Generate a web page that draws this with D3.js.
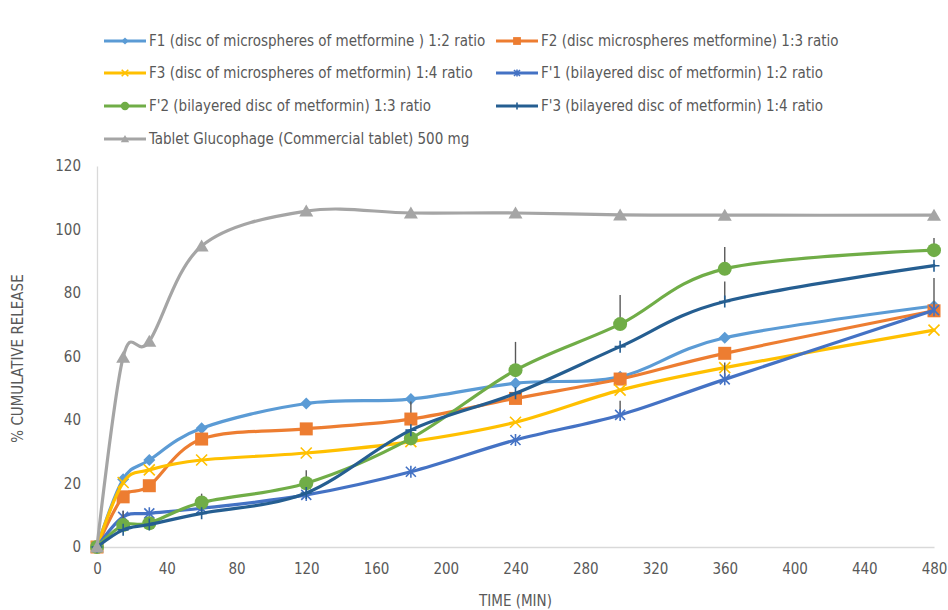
<!DOCTYPE html>
<html>
<head>
<meta charset="utf-8">
<script src="https://cdn.jsdelivr.net/npm/d3@7"></script>
<style>
  html, body { margin: 0; padding: 0; background: #ffffff; }
  svg { display: block; }
  text { font-family: "Liberation Sans Narrow", "DejaVu Sans Condensed", sans-serif; fill: #595959; }
</style>
</head>
<body>
<svg id="chart" width="948" height="610"></svg>
<script>
// ---------- data ----------
const times = [0, 15, 30, 60, 120, 180, 240, 300, 360, 480];
const xTicks = [0, 40, 80, 120, 160, 200, 240, 280, 320, 360, 400, 440, 480];
const yTicks = [0, 20, 40, 60, 80, 100, 120];

const f1  = [0, 21.3, 27.4, 37.4, 45.2, 46.6, 51.6, 53.6, 65.9, 75.9];
const f2  = [0, 15.8, 19.3, 34.0, 37.2, 40.3, 46.8, 52.9, 61.0, 74.4];
const f3  = [0, 20.3, 24.3, 27.4, 29.6, 33.2, 39.3, 49.4, 56.5, 68.3];
const fp1 = [0, 9.5, 10.6, 12.2, 16.4, 23.7, 33.7, 41.6, 52.8, 74.6];
const fp2 = [0, 6.9, 7.5, 14.0, 20.1, 34.2, 55.7, 70.2, 87.6, 93.5];
const fp3 = [0, 5.4, 7.1, 10.6, 17.0, 36.8, 48.4, 63.1, 77.3, 88.6];
const tab = [0, 59.8, 64.8, 94.8, 105.8, 105.2, 105.2, 104.6, 104.5, 104.5];

// positive error bars (0 = none shown)
const errF2  = [0, 0, 0, 0, 0, 5.5, 0, 0, 0, 0];
const errFp1 = [0, 0, 0, 0, 0, 0, 0, 4.5, 5.3, 10.1];
const errFp2 = [0, 4.5, 0, 2.8, 4.1, 0, 8.9, 9.2, 6.9, 3.8];
const errFp3 = [0, 0, 0, 0, 0, 0, 0, 0, 6.3, 0];

const names = [
  "F1 (disc of microspheres of metformine ) 1:2 ratio",
  "F2 (disc microspheres metformine) 1:3 ratio",
  "F3 (disc of microspheres of metformin) 1:4 ratio",
  "F'1 (bilayered disc of metformin) 1:2 ratio",
  "F'2 (bilayered disc of metformin) 1:3 ratio",
  "F'3 (bilayered disc of metformin) 1:4 ratio",
  "Tablet Glucophage (Commercial tablet) 500 mg"
];
const xTitle = "TIME (MIN)";
const yTitle = "% CUMULATIVE RELEASE";

// ---------- styles ----------
const series = [
  { name: names[0], values: f1,  err: null,   color: "#5B9BD5", marker: "diamond" },
  { name: names[1], values: f2,  err: errF2,  color: "#ED7D31", marker: "square" },
  { name: names[2], values: f3,  err: null,   color: "#FFC000", marker: "x" },
  { name: names[3], values: fp1, err: errFp1, color: "#4472C4", marker: "star" },
  { name: names[4], values: fp2, err: errFp2, color: "#70AD47", marker: "circle" },
  { name: names[5], values: fp3, err: errFp3, color: "#255E91", marker: "plus" },
  { name: names[6], values: tab, err: null,   color: "#A5A5A5", marker: "triangle" }
];

const svg = d3.select("#chart");
const plot = { left: 97, right: 934, top: 166, bottom: 547 };

const x = d3.scaleLinear().domain([0, 480]).range([plot.left, plot.right]);
const y = d3.scaleLinear().domain([0, 120]).range([plot.bottom, plot.top]);

// axes
const gx = svg.append("g").attr("transform", `translate(0,${plot.bottom})`)
  .call(d3.axisBottom(x).tickValues(xTicks).tickSize(0).tickPadding(16));
gx.select(".domain").attr("stroke", "#D9D9D9").attr("stroke-width", 1.3);
gx.selectAll("text").style("font-size", "15px").attr("fill", "#595959");

const gy = svg.append("g").attr("transform", `translate(${plot.left},0)`)
  .call(d3.axisLeft(y).tickValues(yTicks).tickSize(0).tickPadding(16));
gy.select(".domain").attr("stroke", "#D9D9D9").attr("stroke-width", 1.3);
gy.selectAll("text").style("font-size", "15px").attr("fill", "#595959");

svg.append("text").attr("x", (plot.left + plot.right) / 2).attr("y", 606)
  .attr("text-anchor", "middle").style("font-size", "15px").text(xTitle);
svg.append("text").attr("transform", `translate(23,${(plot.top + plot.bottom) / 2 + 2}) rotate(-90)`)
  .attr("text-anchor", "middle").style("font-size", "15px").text(yTitle);

// markers
function drawMarker(g, type, color, s) {
  // s = scale factor
  switch (type) {
    case "diamond":
      g.append("path").attr("d", `M0,${-6*s}L${6*s},0L0,${6*s}L${-6*s},0Z`).attr("fill", color);
      break;
    case "square":
      g.append("rect").attr("x", -6.5*s).attr("y", -6.5*s).attr("width", 13*s).attr("height", 13*s).attr("fill", color);
      break;
    case "circle":
      g.append("circle").attr("r", 7*s).attr("fill", color);
      break;
    case "triangle":
      g.append("path").attr("d", `M0,${-6.5*s}L${7*s},${5.5*s}L${-7*s},${5.5*s}Z`).attr("fill", color);
      break;
    case "x":
      g.append("path").attr("d", `M${-5.5*s},${-5.5*s}L${5.5*s},${5.5*s}M${5.5*s},${-5.5*s}L${-5.5*s},${5.5*s}`)
        .attr("stroke", color).attr("stroke-width", 1.6).attr("fill", "none");
      break;
    case "star":
      g.append("path").attr("d", `M${-5*s},${-5*s}L${5*s},${5*s}M${5*s},${-5*s}L${-5*s},${5*s}M0,${-6*s}L0,${6*s}`)
        .attr("stroke", color).attr("stroke-width", 1.6).attr("fill", "none");
      break;
    case "plus":
      g.append("path").attr("d", `M${-5.5*s},0L${5.5*s},0M0,${-6*s}L0,${6*s}`)
        .attr("stroke", color).attr("stroke-width", 1.6).attr("fill", "none");
      break;
  }
}

const line = d3.line().x(d => x(d.t)).y(d => y(d.v)).curve(d3.curveCatmullRom.alpha(0));

series.forEach(s => {
  const pts = times.map((t, i) => ({ t, v: s.values[i], e: s.err ? s.err[i] : 0 }));
  const g = svg.append("g");
  g.append("path").datum(pts).attr("d", line)
    .attr("fill", "none").attr("stroke", s.color).attr("stroke-width", 3.2)
    .attr("stroke-linejoin", "round").attr("stroke-linecap", "round");
  g.selectAll(".err").data(pts.filter(p => p.e > 0)).join("line")
    .attr("x1", d => x(d.t)).attr("x2", d => x(d.t))
    .attr("y1", d => y(d.v)).attr("y2", d => y(d.v + d.e))
    .attr("stroke", "#595959").attr("stroke-width", 1.4);
  pts.forEach(p => {
    const mg = g.append("g").attr("transform", `translate(${x(p.t)},${y(p.v)})`);
    drawMarker(mg, s.marker, s.color, 1);
  });
});

// legend
const legendPos = [
  [104, 41], [496, 41],
  [104, 73], [496, 73],
  [104, 106], [496, 106],
  [104, 139]
];
series.forEach((s, i) => {
  const [lx, ly] = legendPos[i];
  const g = svg.append("g").attr("transform", `translate(${lx},${ly})`);
  g.append("line").attr("x1", 0).attr("x2", 42).attr("y1", 0).attr("y2", 0)
    .attr("stroke", s.color).attr("stroke-width", 3.2);
  const mg = g.append("g").attr("transform", "translate(21,0)");
  drawMarker(mg, s.marker, s.color, 0.6);
  g.append("text").attr("x", 45).attr("y", 0).attr("dy", "0.35em")
    .style("font-size", "15px").text(s.name);
});
</script>
</body>
</html>
